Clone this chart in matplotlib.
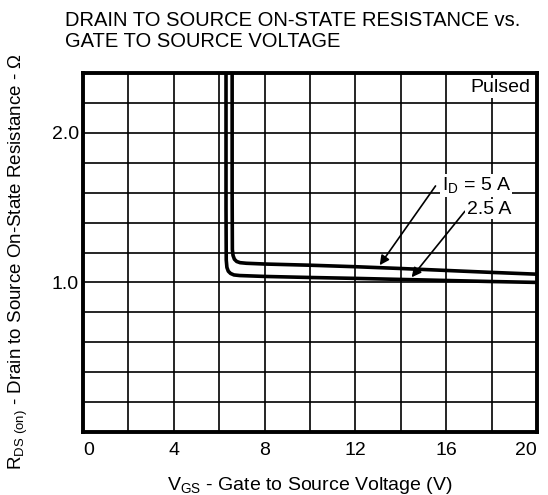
import numpy as np
import matplotlib.pyplot as plt

plt.rcParams['font.family'] = ['Liberation Sans', 'DejaVu Sans']
plt.rcParams['mathtext.fontset'] = 'custom'
plt.rcParams['mathtext.rm'] = 'Liberation Sans'

# curve data
vgs_5a = [6.57, 6.57, 6.58, 6.61, 6.67, 6.77, 6.92, 7.2, 8, 10, 12, 14, 16, 18, 20]
rds_5a = [2.6, 1.6, 1.22, 1.18, 1.155, 1.14, 1.132, 1.128, 1.123, 1.115, 1.105, 1.093, 1.08, 1.067, 1.055]
vgs_2a5 = [6.30, 6.30, 6.31, 6.34, 6.40, 6.5, 6.65, 6.9, 8, 10, 12, 14, 16, 18, 20]
rds_2a5 = [2.6, 1.5, 1.15, 1.10, 1.075, 1.06, 1.05, 1.046, 1.04, 1.033, 1.027, 1.02, 1.013, 1.006, 1.0]

x_ticks = [0, 4, 8, 12, 16, 20]
y_ticks = [1.0, 2.0]

fig = plt.figure(figsize=(5.48, 4.95), dpi=100)
ax = fig.add_axes([83/548, 1-432/495, 454/548, 359/495])

ax.plot(vgs_5a, rds_5a, color='black', linewidth=2.6, solid_joinstyle='round')
ax.plot(vgs_2a5, rds_2a5, color='black', linewidth=2.6, solid_joinstyle='round')

ax.set_xlim(0, 20)
ax.set_ylim(0, 2.4)
ax.set_xticks(np.arange(0, 21, 2), minor=True)
ax.set_yticks(np.arange(0, 2.41, 0.2), minor=True)
ax.set_xticks(x_ticks)
ax.set_yticks(y_ticks)
ax.set_xticklabels([str(v) for v in x_ticks])
ax.set_yticklabels(['%.1f' % v for v in y_ticks])
ax.grid(which='both', color='black', linewidth=1.2)
ax.tick_params(which='both', length=0, labelsize=14, colors='black')
ax.tick_params(axis='x', pad=7)
ax.tick_params(axis='y', pad=3)
xl = ax.get_xticklabels()
xl[0].set_ha('left')
xl[-1].set_ha('right')
for s in ax.spines.values():
    s.set_linewidth(2.8)

ax.text(19.7, 2.3, 'Pulsed', ha='right', va='center', fontsize=14,
        bbox=dict(facecolor='white', edgecolor='none', pad=1))

ax.annotate('', xy=(13.0, 1.1), xytext=(15.6, 1.66),
            arrowprops=dict(arrowstyle='-|>', color='black', lw=1.2, mutation_scale=14))
ax.annotate('', xy=(14.4, 1.02), xytext=(16.9, 1.49),
            arrowprops=dict(arrowstyle='-|>', color='black', lw=1.2, mutation_scale=14))
ax.text(15.8, 1.65, r'I$\mathregular{_{D}}$ = 5 A', ha='left', va='center', fontsize=14,
        bbox=dict(facecolor='white', edgecolor='none', pad=1))
ax.text(16.9, 1.49, '2.5 A', ha='left', va='center', fontsize=14,
        bbox=dict(facecolor='white', edgecolor='none', pad=1))

ax.set_xlabel(r'V$\mathregular{_{GS}}$ - Gate to Source Voltage (V)', fontsize=14, labelpad=12)
fig.text(18/548, 1-262/495, r'R$\mathregular{_{DS\ (on)}}$ - Drain to Source On-State Resistance - Ω',
         rotation=90, ha='center', va='center', fontsize=13.5)

fig.text(65/548, 1-11/495, 'DRAIN TO SOURCE ON-STATE RESISTANCE vs.\nGATE TO SOURCE VOLTAGE',
         ha='left', va='top', fontsize=14.5, linespacing=1.15)

fig.savefig('out.png', dpi=100)
